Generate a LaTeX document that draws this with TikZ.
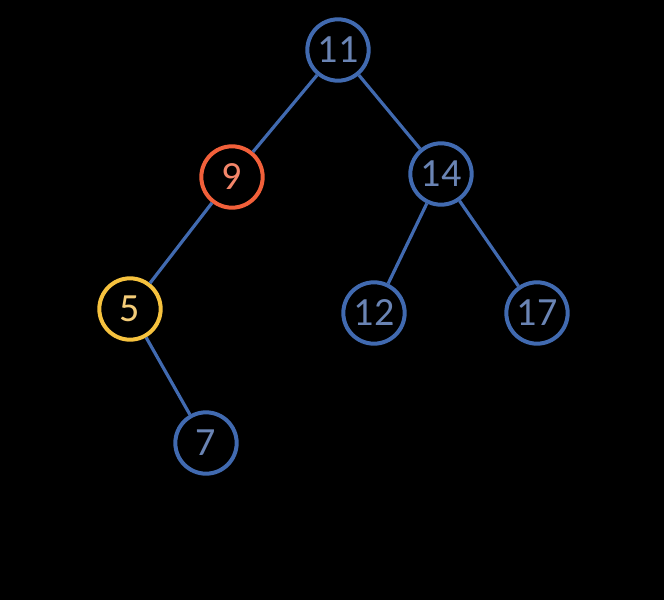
\documentclass[tikz,border=0pt]{standalone}
\usepackage{fontspec}
\setmainfont{Carlito}
\usepackage{xcolor}
\usepackage{tikz}
\definecolor{ink}{HTML}{000000}
\definecolor{steel}{HTML}{416AB0}
\definecolor{steeltx}{HTML}{6A84B4}
\definecolor{flame}{HTML}{F2603A}
\definecolor{flametx}{HTML}{F4866A}
\definecolor{gold}{HTML}{F6C23E}
\definecolor{goldtx}{HTML}{F4CC78}
\tikzset{
  every node/.style={font=\fontsize{30}{32}\selectfont},
  key/.style={circle,draw=steel,line width=3pt,minimum size=46pt,inner sep=0pt,
              text=steeltx,fill=ink},
  hot/.style={key,draw=flame,text=flametx},
  seen/.style={key,draw=gold,text=goldtx},
  link/.style={draw=steel,line width=2.4pt},
}
\begin{document}
\begin{tikzpicture}[x=0.75pt,y=-0.75pt]
\fill[ink] (0,0) rectangle (664,600);
% tree nodes
\node[key]  (n11) at (338,50)  {11};
\node[hot]  (n9)  at (232,177) {9};
\node[key]  (n14) at (441,174) {14};
\node[seen] (n5)  at (130,309) {5};
\node[key]  (n12) at (374,313) {12};
\node[key]  (n17) at (537,313) {17};
\node[key]  (n7)  at (206,443) {7};
% edges
\draw[link] (n11) -- (n9);
\draw[link] (n11) -- (n14);
\draw[link] (n9) -- (n5);
\draw[link] (n14) -- (n12);
\draw[link] (n14) -- (n17);
\draw[link] (n5) -- (n7);
\end{tikzpicture}
\end{document}
